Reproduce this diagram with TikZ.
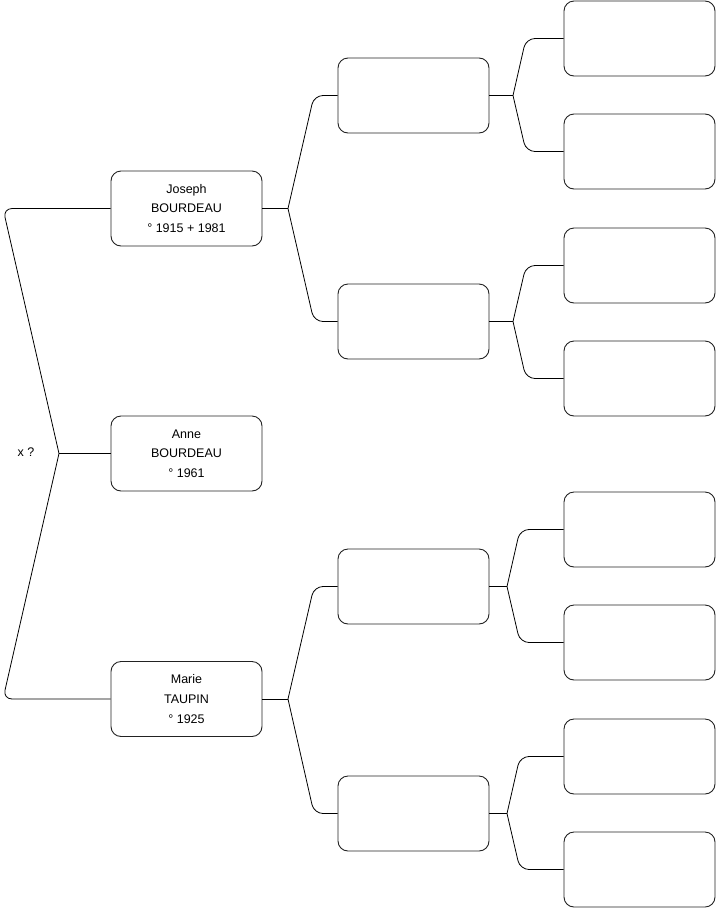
\documentclass[tikz,border=0pt]{standalone}
\usepackage{fontspec}
\setmainfont{Liberation Sans}
\usepackage{tikz}
\usetikzlibrary{positioning,calc}
\definecolor{boxborder}{HTML}{222222}

\begin{document}
\begin{tikzpicture}[x=1pt,y=-1pt,font=\fontsize{12.5}{19.7}\selectfont,
  person/.style={draw=boxborder,line width=0.9pt,rounded corners=10pt,minimum width=151pt,minimum height=75pt,align=center,inner sep=0pt},
  link/.style={draw=black,line width=0.8pt},
  elbow/.style={link,rounded corners=9pt}]
\useasboundingbox (0,0) rectangle (716,908);
% generation 1
\node[person] (anne) at (186.5,453.5) {Anne\\BOURDEAU\\° 1961};
\node[person] (father) at (186.5,208.5) {Joseph\\BOURDEAU\\° 1915 + 1981};
\node[person] (mother) at (186.5,699) {Marie\\TAUPIN\\° 1925};
% generation 2
\node[person] (ff) at (413.5,95.5) {};
\node[person] (fm) at (413.5,321.5) {};
\node[person] (mf) at (413.5,586.5) {};
\node[person] (mm) at (413.5,813.5) {};
% generation 3
\node[person] (fff) at (639.5,38.5) {};
\node[person] (ffm) at (639.5,151.5) {};
\node[person] (fmf) at (639.5,265.5) {};
\node[person] (fmm) at (639.5,378.5) {};
\node[person] (mff) at (639.5,529.5) {};
\node[person] (mfm) at (639.5,642.5) {};
\node[person] (mmf) at (639.5,756.5) {};
\node[person] (mmm) at (639.5,869.5) {};

\node (union) at (26,452) {x ?};
\coordinate (froot) at (59,453.5);
\draw[link] (froot) -- (anne.west);
\draw[elbow] (froot) -- (3,208.5) -- (father.west);
\draw[elbow] (froot) -- (3,699) -- (mother.west);

% forks: parent/upper/lower/fork x/elbow x
\foreach \p/\a/\b/\fx/\bx in {father/ff/fm/288/314, mother/mf/mm/288/314,
    ff/fff/ffm/513/526, fm/fmf/fmm/513/526, mf/mff/mfm/507/520, mm/mmf/mmm/507/520} {
  \coordinate (fk) at (\fx,0 |- \p.east);
  \draw[link] (\p.east) -- (fk);
  \draw[elbow] (fk) -- (\bx,0 |- \a.west) -- (\a.west);
  \draw[elbow] (fk) -- (\bx,0 |- \b.west) -- (\b.west);
}
\end{tikzpicture}
\end{document}
